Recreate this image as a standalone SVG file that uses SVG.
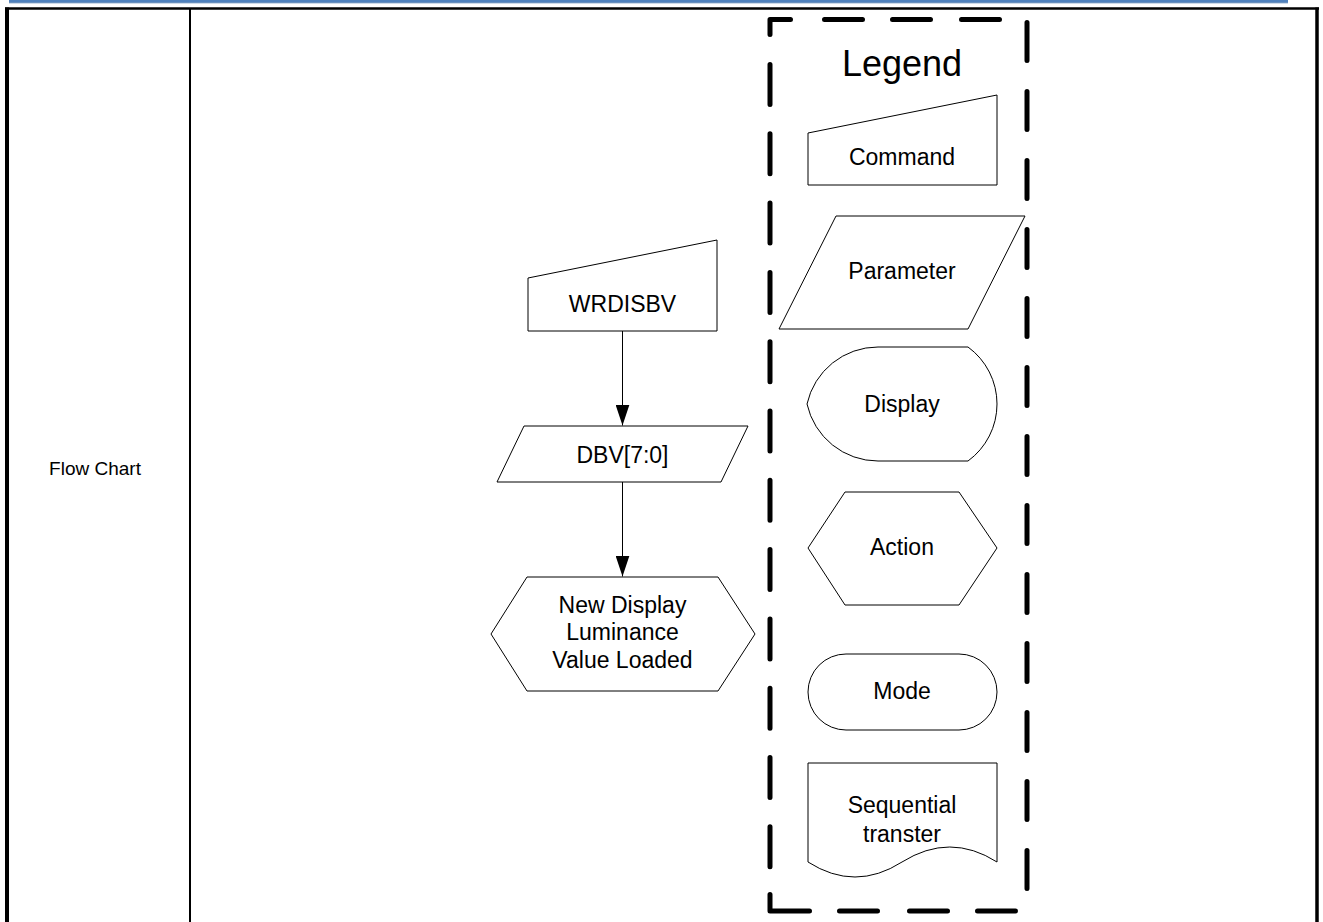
<svg xmlns="http://www.w3.org/2000/svg" width="1323" height="922" viewBox="0 0 1323 922">
<style>
.shape{fill:#fff;stroke:#000;stroke-width:1}
.lbl{font-family:"Liberation Sans",Arial,sans-serif;font-size:23px;fill:#000;text-anchor:middle}
.title{font-family:"Liberation Sans",Arial,sans-serif;font-size:36px;fill:#000;text-anchor:middle}
.small{font-family:"Liberation Sans",Arial,sans-serif;font-size:19px;fill:#000;text-anchor:middle}
.conn{stroke:#000;stroke-width:1;fill:none}
.tbl{stroke:#000;fill:none}
.dash{stroke:#000;stroke-width:5;fill:none;stroke-linecap:round;stroke-linejoin:round}
</style>
<defs>
<marker id="arr" markerWidth="21" markerHeight="14" refX="21" refY="7" orient="auto" markerUnits="userSpaceOnUse" viewBox="0 0 21 14">
<path d="M0,0 L21,7 L0,14 Z" fill="#000"/>
</marker>
</defs>
<rect width="1323" height="922" fill="#fff"/>
<g id="header">
<rect x="9" y="0" width="1279" height="2.5" fill="#4F81BD"/>
<line x1="9" y1="2.8" x2="1288" y2="2.8" stroke="#3A6BA5" stroke-width="0.8"/>
</g>
<g id="table">
<line class="tbl" x1="5" y1="8.5" x2="1319" y2="8.5" stroke-width="2.5"/>
<line class="tbl" x1="7" y1="7.5" x2="7" y2="922" stroke-width="4"/>
<line class="tbl" x1="1317" y1="7.5" x2="1317" y2="922" stroke-width="3.5"/>
<line class="tbl" x1="190" y1="8" x2="190" y2="922" stroke-width="2"/>
<text class="small" x="95" y="475">Flow Chart</text>
</g>
<g id="legend-box">
<path class="dash" d="M770,34.5 V19.5 H790.5 M824.5,19.5 H862.5 M892.5,19.5 H930.5 M961.5,19.5 H999.5
M770,64.5 V104.5 M770,133.8 V173.8 M770,203.1 V243.1 M770,272.4 V312.4 M770,341.7 V381.7 M770,411 V451 M770,480.3 V520.3 M770,549.6 V589.6 M770,618.9 V658.9 M770,688.2 V728.2 M770,757.5 V797.5 M770,826.8 V866.8
M770,894.5 V911 H809.5 M839.5,911 H877.5 M909.5,911 H947.5 M977.5,911 H1015.5
M1027,22.5 V60.5 M1027,91.5 V129.5 M1027,160.5 V198.5 M1027,229.5 V267.5 M1027,298.5 V336.5 M1027,367.5 V405.5 M1027,436.5 V474.5 M1027,505.5 V543.5 M1027,574.5 V612.5 M1027,643.5 V681.5 M1027,712.5 V750.5 M1027,781.5 V819.5 M1027,850.5 V888.5"/>
<text class="title" x="902" y="76">Legend</text>
</g>
<g id="legend-command">
<path class="shape" d="M808,133 L997,95 L997,185 L808,185 Z"/>
<text class="lbl" x="902" y="165">Command</text>
</g>
<g id="legend-parameter">
<path class="shape" d="M836,216 L1025,216 L968,329 L779,329 Z"/>
<text class="lbl" x="902" y="279">Parameter</text>
</g>
<g id="legend-display">
<path class="shape" d="M878,347 L968,347 A70.5,70.5 0 0 1 968,461 L878,461 A72.7,72.7 0 0 1 807,404 A72.7,72.7 0 0 1 878,347 Z"/>
<text class="lbl" x="902" y="412">Display</text>
</g>
<g id="legend-action">
<path class="shape" d="M845,492 L959,492 L997,548 L959,605 L845,605 L808,548 Z"/>
<text class="lbl" x="902" y="555">Action</text>
</g>
<g id="legend-mode">
<rect class="shape" x="808" y="654" width="189" height="76" rx="38" ry="38"/>
<text class="lbl" x="902" y="699">Mode</text>
</g>
<g id="legend-sequential">
<path class="shape" d="M808,763 L997,763 L997,862 Q950,832 902,862 Q855,892 808,862 Z"/>
<text class="lbl" x="902" y="813">Sequential</text>
<text class="lbl" x="902" y="842">transter</text>
</g>
<g id="node-wrdisbv">
<path class="shape" d="M528,278 L717,240 L717,331 L528,331 Z"/>
<text class="lbl" x="622.5" y="312">WRDISBV</text>
</g>
<g id="node-dbv">
<path class="shape" d="M524,426 L748,426 L721,482 L497,482 Z"/>
<text class="lbl" x="622.5" y="463">DBV[7:0]</text>
</g>
<g id="node-luminance">
<path class="shape" d="M527,577 L718,577 L755,634 L718,691 L527,691 L491,634 Z"/>
<text class="lbl" x="622.5" y="613">New Display</text>
<text class="lbl" x="622.5" y="640">Luminance</text>
<text class="lbl" x="622.5" y="668">Value Loaded</text>
</g>
<g id="connectors">
<line class="conn" x1="622.5" y1="331" x2="622.5" y2="425.5" marker-end="url(#arr)"/>
<line class="conn" x1="622.5" y1="482" x2="622.5" y2="576.5" marker-end="url(#arr)"/>
</g>
</svg>
